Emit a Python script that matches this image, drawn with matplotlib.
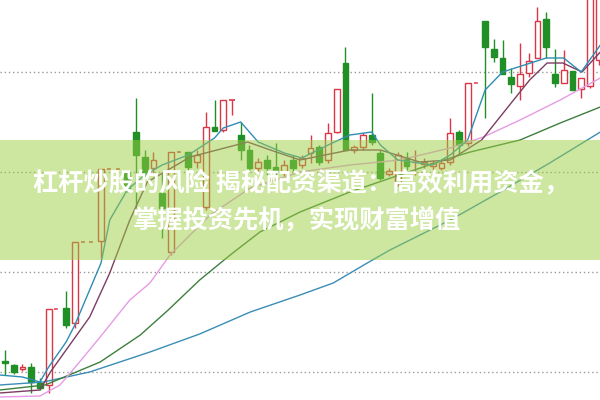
import matplotlib
matplotlib.use('Agg')
import matplotlib.pyplot as plt

plt.rcParams['font.family'] = ['Noto Sans CJK SC', 'DejaVu Sans']

# daily candles (price units), one entry per trading day
opens = [3.9, 3.5, 3.1, 3.3, 1.7, 1.5, 9.1, 9.2, 7.7, 15.8, 15.8, 15.9, 23.1, 23.1, 22.8, 26.8, 24.3, 23.2,
         20.7, 14.8, 24.8, 24.8, 23.8, 19.3, 27.3, 27.0, 30.0, 26.5, 25.0, 23.2, 24.0, 23.3, 22.8, 24.0, 23.5,
         24.7, 25.3, 24.0, 26.8, 33.7, 25.0, 25.3, 26.5, 24.7, 22.6, 21.7, 24.2, 23.8, 23.6, 23.4, 23.2, 23.8,
         26.8, 25.7, 31.7, 37.9, 35.1, 34.2, 32.3, 31.4, 32.7, 34.2, 38.1, 32.6, 31.7, 32.9, 31.1, 31.4, 34.0]
closes = [3.7, 2.8, 3.3, 1.8, 1.2, 9.1, 9.1, 7.5, 15.8, 15.8, 15.8, 23.1, 23.1, 23.1, 21.2, 24.5, 22.8, 24.0,
          19.2, 24.8, 24.8, 23.3, 24.5, 27.3, 26.9, 30.0, 30.0, 25.0, 23.2, 23.8, 23.2, 22.8, 23.5, 23.2, 24.2,
          25.2, 23.8, 26.7, 31.1, 25.0, 25.3, 26.5, 25.8, 22.2, 22.9, 24.5, 23.4, 23.85, 23.8, 23.7, 23.7, 26.7,
          25.5, 31.7, 31.7, 35.3, 34.3, 32.6, 31.6, 32.6, 33.9, 37.9, 35.3, 31.7, 33.0, 31.0, 32.2, 40.5, 41.0]
highs = [5.0, 3.6, 3.6, 3.7, 2.2, 9.1, 9.1, 10.9, 15.8, 15.8, 15.8, 23.1, 23.1, 23.1, 23.0, 30.2, 25.0, 24.8,
         22.7, 24.8, 24.8, 24.8, 25.0, 28.8, 30.0, 30.0, 30.0, 27.8, 25.5, 24.2, 24.5, 25.7, 24.0, 24.5, 24.5,
         26.5, 25.5, 27.7, 31.1, 35.3, 25.5, 26.7, 30.7, 25.0, 23.2, 24.8, 24.8, 25.0, 24.2, 24.0, 24.0, 28.2,
         27.0, 31.7, 31.7, 37.9, 36.1, 36.0, 33.2, 35.7, 34.7, 39.3, 38.8, 35.1, 35.0, 32.9, 32.2, 41.0, 41.0]
lows = [2.5, 2.6, 2.9, 0.7, 1.0, 0.7, 9.1, 7.2, 7.2, 15.8, 15.8, 14.2, 23.1, 23.1, 20.8, 19.2, 22.2, 22.5,
        16.2, 14.5, 24.8, 22.8, 23.2, 19.0, 26.9, 26.8, 28.5, 24.0, 22.8, 22.8, 22.5, 22.3, 22.4, 22.8, 23.2,
        23.7, 23.5, 23.7, 26.7, 25.0, 24.7, 25.0, 25.5, 22.0, 22.4, 21.4, 23.0, 22.5, 23.2, 23.0, 23.0, 23.5,
        24.7, 25.4, 31.7, 28.2, 33.8, 32.6, 30.7, 30.0, 32.3, 34.2, 34.2, 31.3, 31.7, 31.0, 30.2, 31.2, 33.5]

ma5_day = [-0.6, 2, 4, 5, 7, 8, 11, 12, 14, 16, 18, 21, 24, 25, 27, 29, 32, 34, 37.5, 39.5, 42, 43, 45, 49,
           51, 53, 55, 57, 62, 64, 66, 68.2]
ma5_val = [2.5, 2.3, 1.8, 3.3, 5.8, 7.5, 13.7, 18.0, 21.0, 22.5, 23.5, 24.5, 26.2, 27.2, 27.8, 25.8, 24.7,
           24.2, 25.7, 26.5, 26.8, 25.5, 24.0, 23.5, 24.5, 26.0, 31.0, 32.8, 34.2, 34.2, 32.8, 35.5]
ma10_day = [-0.6, 4, 5.2, 9.7, 12, 14.3, 16.3, 21.2, 27.8, 30.4, 33.8, 39.5, 43, 47.5, 51, 54.6, 57.8, 60.1,
            62.1, 63.9, 66.1, 68.2]
ma10_val = [0.7, 1.0, 2.8, 8.3, 12.7, 18.0, 21.8, 24.3, 25.8, 25.0, 24.0, 25.0, 25.0, 23.8, 24.0, 26.0, 29.5,
            32.0, 33.7, 33.7, 32.8, 34.8]
ma20_day = [-0.6, 4.0, 6.3, 8.25, 10.9, 14.3, 16.6, 18.9, 23.5, 28.1, 33.8, 39.5, 45.2, 51, 54.8, 59, 63.6, 68.2]
ma20_val = [0.3, 0.4, 1.5, 3.5, 6.3, 10.0, 11.7, 14.5, 18.5, 21.2, 22.8, 23.5, 24.0, 25.2, 26.3, 28.0, 30.0, 32.2]
ma30_day = [-0.6, 4.6, 10.9, 15.5, 18.7, 22.3, 25.8, 29.2, 33.8, 39.5, 45.2, 51, 53.3, 59, 63.6, 68.2]
ma30_val = [1.0, 1.5, 3.8, 6.5, 9.0, 12.0, 14.5, 16.8, 18.8, 20.8, 22.5, 24.2, 24.8, 26.0, 27.7, 29.3]
ma60_day = [-0.6, 4.4, 9.7, 16.6, 22.3, 28.1, 33.8, 37.6, 41.5, 44.1, 51, 56.7, 62.4, 68.2]
ma60_val = [1.5, 1.8, 2.8, 4.8, 6.6, 8.8, 10.5, 11.7, 13.7, 15.0, 18.0, 20.8, 23.7, 26.8]

grid_levels = [2.8, 12.8, 22.8, 32.8]
title_lines = ['杠杆炒股的风险 揭秘配资渠道：高效利用资金，', '掌握投资先机，实现财富增值']

UP = '#dc3545'
DOWN = '#1f8f26'

fig = plt.figure(figsize=(6, 4), dpi=100)
ax = fig.add_axes([0, 0, 1, 1])
ax.set_xlim(-0.573, 68.16)
ax.set_ylim(0, 40)
ax.axis('off')

for g in grid_levels:
    ax.axhline(g, color='#9a9a9a', lw=1, ls=(0, (1, 2)), zorder=1)

w = 0.66
for i in range(len(opens)):
    o, c, h, l = opens[i], closes[i], highs[i], lows[i]
    col = UP if c >= o else DOWN
    if o == c == h == l:
        # one-price day, drawn as a short dash
        ax.hlines(o, i - w / 2, i + w / 2, color=UP, lw=1.1, ls=(0, (2.5, 1.5)), zorder=3)
        continue
    ax.vlines(i, l, h, color=col, lw=1, zorder=2)
    if abs(c - o) < 0.05:
        ax.hlines(o, i - w / 2, i + w / 2, color=col, lw=1.2, zorder=3)
    elif c > o:
        ax.bar(i, c - o, bottom=o, width=w, facecolor='white', edgecolor=UP, lw=1, zorder=3)
    else:
        ax.bar(i, o - c, bottom=c, width=w, facecolor=DOWN, edgecolor=DOWN, lw=1, zorder=3)

ax.plot(ma60_day, ma60_val, color='#3a8db5', lw=1, zorder=4)
ax.plot(ma30_day, ma30_val, color='#3e7f3e', lw=1, zorder=4)
ax.plot(ma20_day, ma20_val, color='#e79be6', lw=1, zorder=4)
ax.plot(ma10_day, ma10_val, color='#7c3d63', lw=1, zorder=4)
ax.plot(ma5_day, ma5_val, color='#2f8db3', lw=1, zorder=4)

# green title band
ax.axhspan(14.0, 26.0, color='#9cce42', alpha=0.5, lw=0, zorder=6)

fig.text(33 / 600, 1 - 190 / 400, title_lines[0], color='white', fontsize=18.2, fontweight='bold',
         ha='left', va='baseline', zorder=10)
fig.text(133 / 600, 1 - 228 / 400, title_lines[1], color='white', fontsize=18.2, fontweight='bold',
         ha='left', va='baseline', zorder=10)

fig.savefig('out.png', dpi=100)
